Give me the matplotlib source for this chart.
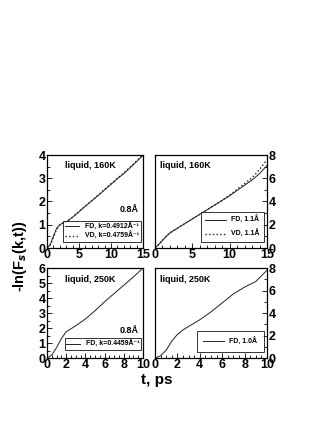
import numpy as np
import matplotlib
matplotlib.use("Agg")
import matplotlib.pyplot as plt
from matplotlib.ticker import MultipleLocator

plt.rcParams['font.family'] = ['Liberation Sans', 'DejaVu Sans']
plt.rcParams['font.weight'] = 'bold'

# 160K, 0.8 A
t_a = [0, 0.5, 1, 1.5, 2, 2.5, 3, 4, 5, 6, 7, 8, 9, 10, 11, 12, 13, 14, 15]
fd_a = [0, 0.15, 0.5, 0.85, 1.0, 1.08, 1.12, 1.32, 1.56, 1.8, 2.03, 2.26, 2.5, 2.74, 2.98, 3.2, 3.45, 3.72, 3.98]
vd_a = [0, 0.12, 0.45, 0.8, 0.98, 1.07, 1.12, 1.33, 1.57, 1.81, 2.04, 2.28, 2.52, 2.76, 3.0, 3.23, 3.48, 3.75, 4.02]
# 160K, 1.1 A
t_b = [0, 0.5, 1, 1.5, 2, 2.5, 3, 4, 5, 6, 7, 8, 9, 10, 11, 12, 13, 14, 15]
fd_b = [0, 0.3, 0.65, 1.0, 1.3, 1.5, 1.7, 2.1, 2.5, 2.9, 3.3, 3.7, 4.1, 4.5, 4.95, 5.4, 5.85, 6.4, 7.1]
vd_b = [0, 0.3, 0.65, 1.0, 1.3, 1.5, 1.7, 2.1, 2.5, 2.9, 3.3, 3.7, 4.1, 4.55, 5.05, 5.55, 6.05, 6.75, 7.6]
# 250K, 0.8 A
t_c = [0, 0.5, 1, 1.5, 2, 2.5, 3, 4, 5, 6, 7, 8, 9, 10]
fd_c = [0, 0.2, 0.7, 1.3, 1.75, 1.95, 2.15, 2.6, 3.15, 3.75, 4.3, 4.85, 5.4, 6.0]
# 250K, 1.0 A
t_d = [0, 0.5, 1, 1.5, 2, 2.5, 3, 4, 5, 6, 7, 8, 9, 10]
fd_d = [0, 0.2, 0.7, 1.5, 2.1, 2.5, 2.8, 3.4, 4.1, 4.9, 5.7, 6.3, 6.8, 7.8]

W, H = 327, 423
fig = plt.figure(figsize=(W / 100, H / 100), dpi=100)

def box(x0, y0, x1, y1):
    return [x0 / W, 1 - y1 / H, (x1 - x0) / W, (y1 - y0) / H]

ax1 = fig.add_axes(box(47, 155, 143, 248))
ax2 = fig.add_axes(box(155, 155, 267, 248))
ax3 = fig.add_axes(box(47, 268, 143, 358))
ax4 = fig.add_axes(box(155, 268, 267, 358))

lc = '#222222'

def style(ax, xmax, xmaj, xmin, ymax, ymaj, ymin, right=False):
    ax.set_xlim(0, xmax)
    ax.set_ylim(0, ymax)
    ax.xaxis.set_major_locator(MultipleLocator(xmaj))
    ax.xaxis.set_minor_locator(MultipleLocator(xmin))
    ax.yaxis.set_major_locator(MultipleLocator(ymaj))
    ax.yaxis.set_minor_locator(MultipleLocator(ymin))
    ax.tick_params(which='both', direction='in', labelsize=9, pad=1,
                   left=not right, right=right, labelleft=not right, labelright=right,
                   top=False, width=0.6)
    ax.tick_params(which='major', length=3.5)
    ax.tick_params(which='minor', length=2)
    for s in ax.spines.values():
        s.set_linewidth(0.9)
    for lab in ax.get_xticklabels() + ax.get_yticklabels():
        lab.set_fontweight('bold')

style(ax1, 15, 5, 1, 4, 1, 0.5)
style(ax2, 15, 5, 1, 8, 2, 1, right=True)
style(ax3, 10, 2, 0.5, 6, 1, 0.5)
style(ax4, 10, 2, 0.5, 8, 2, 1, right=True)

def legend(ax, anchor, **kw):
    opts = dict(fontsize=5, frameon=True, fancybox=False, edgecolor='black',
                handlelength=2.0, borderpad=0.3, labelspacing=0.2, handletextpad=0.8,
                borderaxespad=0, loc='lower right', bbox_to_anchor=anchor)
    opts.update(kw)
    l = ax.legend(**opts)
    l.get_frame().set_linewidth(0.7)

ax1.plot(t_a, fd_a, '-', color=lc, lw=0.7, label='FD, k=0.4912Å⁻¹')
ax1.plot(t_a, vd_a, ':', color=lc, lw=1.0, label='VD, k=0.4759Å⁻¹')
ax1.text(0.19, 0.89, 'liquid, 160K', transform=ax1.transAxes, fontsize=6.5, va='center')
ax1.text(0.95, 0.41, '0.8Å', transform=ax1.transAxes, fontsize=6.5, ha='right', va='center')
legend(ax1, (0.98, 0.06))

ax2.plot(t_b, fd_b, '-', color=lc, lw=0.7, label='FD, 1.1Å')
ax2.plot(t_b, vd_b, ':', color=lc, lw=1.0, label='VD, 1.1Å')
ax2.text(0.045, 0.89, 'liquid, 160K', transform=ax2.transAxes, fontsize=6.5, va='center')
legend(ax2, (0.97, 0.06), labelspacing=0.9, borderpad=0.6, handlelength=3.0)

ax3.plot(t_c, fd_c, '-', color=lc, lw=0.7, label='FD, k=0.4459Å⁻¹')
ax3.text(0.19, 0.87, 'liquid, 250K', transform=ax3.transAxes, fontsize=6.5, va='center')
ax3.text(0.95, 0.31, '0.8Å', transform=ax3.transAxes, fontsize=6.5, ha='right', va='center')
legend(ax3, (0.98, 0.09), borderpad=0.25)

ax4.plot(t_d, fd_d, '-', color=lc, lw=0.7, label='FD, 1.0Å')
ax4.text(0.045, 0.87, 'liquid, 250K', transform=ax4.transAxes, fontsize=6.5, va='center')
legend(ax4, (0.97, 0.07), borderpad=0.9, handlelength=3.0)

fig.text(157 / W, 1 - 380 / H, 't, ps', fontsize=11, fontweight='bold', ha='center', va='center')
fig.text(20 / W, 1 - 256 / H, '-ln(F$_s$(k,t))', fontsize=10.5, fontweight='bold',
         rotation=90, ha='center', va='center')

fig.savefig('out.png', dpi=100)
